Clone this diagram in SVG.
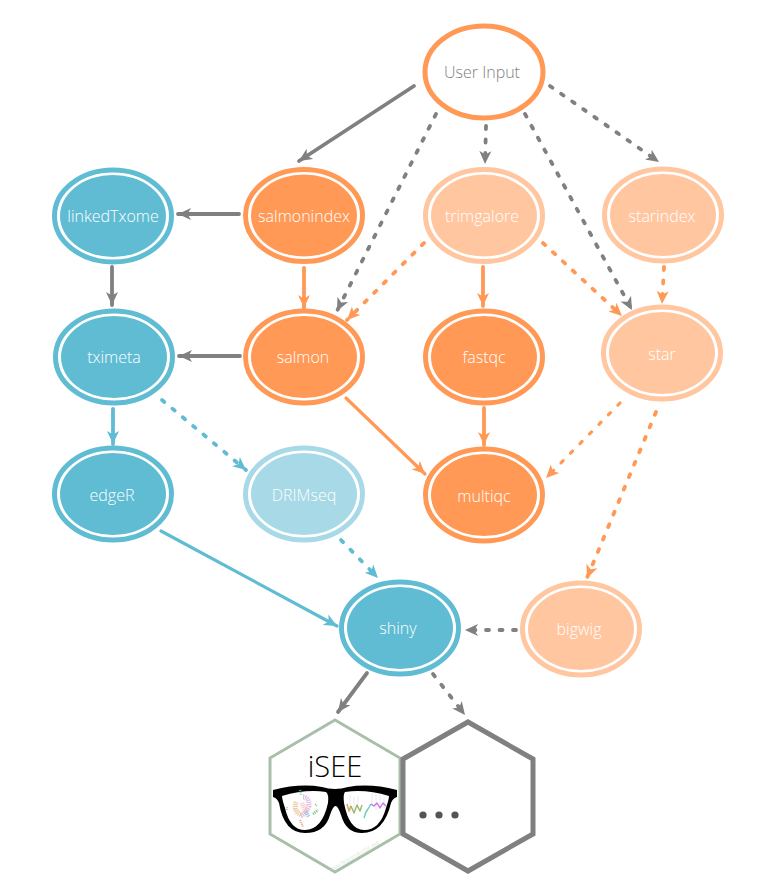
<svg xmlns="http://www.w3.org/2000/svg" width="777" height="896" viewBox="0 0 777 896">
<style>
text{font-family:"Open Sans","Noto Sans",sans-serif;font-size:16px;font-weight:300;text-anchor:middle;fill:#fff}
.o{fill:none;stroke-width:5}
.i{stroke:none}
.org .o{stroke:#ff9955}.org .i{fill:#ff9955}
.pale .o{stroke:#ffc6a0}.pale .i{fill:#ffc6a0}
.blu .o{stroke:#5fbcd3}.blu .i{fill:#5fbcd3}
.pblu .o{stroke:#a8d9e6}.pblu .i{fill:#a8d9e6}
.c{fill:none;stroke-width:3.8;stroke-linecap:round}
.g{stroke:#808080;marker-end:url(#ag)}.r{stroke:#ff9955;marker-end:url(#ar)}.b{stroke:#5fbcd3;marker-end:url(#ab)}
.d{stroke-dasharray:3 10.5}
.t{stroke-width:3.2}
</style>
<defs>
<marker id="ag" markerUnits="userSpaceOnUse" markerWidth="16" markerHeight="14" refX="13" refY="7" orient="auto"><path d="M0,1L13,7L0,13L3.5,7z" fill="#808080"/></marker>
<marker id="ar" markerUnits="userSpaceOnUse" markerWidth="16" markerHeight="14" refX="13" refY="7" orient="auto"><path d="M0,1L13,7L0,13L3.5,7z" fill="#ff9955"/></marker>
<marker id="ab" markerUnits="userSpaceOnUse" markerWidth="16" markerHeight="14" refX="13" refY="7" orient="auto"><path d="M0,1L13,7L0,13L3.5,7z" fill="#5fbcd3"/></marker>
</defs>
<g id="connectors">
<path class="c g" d="M414,86L299,161"/>
<path class="c g d" d="M436,114L337,311"/>
<path class="c g d" d="M486,126L485,164"/>
<path class="c g d" d="M525,114L632,310"/>
<path class="c g d" d="M550,86L659,162"/>
<path class="c g" d="M239,214L178,214"/>
<path class="c r" d="M304,268L304,308"/>
<path class="c r d" d="M424,243L347,320"/>
<path class="c r" d="M483,267L483,306"/>
<path class="c r d" d="M543,243L622,316"/>
<path class="c r d" d="M664,267L662,304"/>
<path class="c g" d="M112,267L112,305"/>
<path class="c g" d="M240,356L179,356"/>
<path class="c b" d="M113,409L113,444"/>
<path class="c b d" d="M162,400L246,470"/>
<path class="c r t" d="M346,398L425,474"/>
<path class="c r" d="M484,408L484,445"/>
<path class="c r d t" d="M620,403L546,478"/>
<path class="c r d" d="M656,412L587,578"/>
<path class="c b t" d="M161,531L337,626"/>
<path class="c b d" d="M341,540L378,578"/>
<path class="c g d" d="M516,630L465,630"/>
<path class="c g" d="M367,673L338,712"/>
<path class="c g d" d="M433,674L465,715"/>
</g>
<g id="userinput"><ellipse cx="484" cy="72" rx="59" ry="46" fill="#fff" stroke="#ff9955" stroke-width="5"/><text x="482" y="78" style="fill:#808080">User Input</text></g>
<g id="salmonindex" class="org"><ellipse class="o" cx="304" cy="215.500" rx="58.500" ry="46"/><ellipse class="i" cx="304" cy="215.500" rx="53" ry="41"/><text x="304" y="222">salmonindex</text></g>
<g id="trimgalore" class="pale"><ellipse class="o" cx="484" cy="215.500" rx="58.500" ry="46"/><ellipse class="i" cx="484" cy="215.500" rx="53" ry="41"/><text x="482" y="222">trimgalore</text></g>
<g id="starindex" class="pale"><ellipse class="o" cx="663" cy="215" rx="58.500" ry="46"/><ellipse class="i" cx="663" cy="215" rx="53" ry="41"/><text x="662" y="221.500">starindex</text></g>
<g id="linkedTxome" class="blu"><ellipse class="o" cx="113" cy="216" rx="58.500" ry="46"/><ellipse class="i" cx="113" cy="216" rx="53" ry="41"/><text x="113" y="222">linkedTxome</text></g>
<g id="tximeta" class="blu"><ellipse class="o" cx="114" cy="357" rx="58.500" ry="46"/><ellipse class="i" cx="114" cy="357" rx="53" ry="41"/><text x="114" y="363">tximeta</text></g>
<g id="salmon" class="org"><ellipse class="o" cx="304" cy="357" rx="58.500" ry="46"/><ellipse class="i" cx="304" cy="357" rx="53" ry="41"/><text x="303" y="363">salmon</text></g>
<g id="fastqc" class="org"><ellipse class="o" cx="484" cy="357" rx="58.500" ry="46"/><ellipse class="i" cx="484" cy="357" rx="53" ry="41"/><text x="484" y="363">fastqc</text></g>
<g id="star" class="pale"><ellipse class="o" cx="662" cy="353" rx="58.500" ry="46"/><ellipse class="i" cx="662" cy="353" rx="53" ry="41"/><text x="662" y="359.500">star</text></g>
<g id="edgeR" class="blu"><ellipse class="o" cx="113" cy="494" rx="58.500" ry="46"/><ellipse class="i" cx="113" cy="494" rx="53" ry="41"/><text x="112" y="500.500">edgeR</text></g>
<g id="DRIMseq" class="pblu"><ellipse class="o" cx="304" cy="494" rx="58.500" ry="46"/><ellipse class="i" cx="304" cy="494" rx="53" ry="41"/><text x="304" y="500.500">DRIMseq</text></g>
<g id="multiqc" class="org"><ellipse class="o" cx="484" cy="495" rx="58.500" ry="46"/><ellipse class="i" cx="484" cy="495" rx="53" ry="41"/><text x="484" y="501.500">multiqc</text></g>
<g id="shiny" class="blu"><ellipse class="o" cx="400" cy="628" rx="58.500" ry="46"/><ellipse class="i" cx="400" cy="628" rx="53" ry="41"/><text x="398" y="634">shiny</text></g>
<g id="bigwig" class="pale"><ellipse class="o" cx="581" cy="629" rx="58.500" ry="46"/><ellipse class="i" cx="581" cy="629" rx="53" ry="41"/><text x="579" y="635">bigwig</text></g>
<g id="isee">
<polygon points="335,720 400,758 400,834 335,872 270,834 270,758" fill="#fff" stroke="#a9bfa9" stroke-width="3"/>
<text x="335" y="777" style="fill:#000;font-size:29px">iSEE</text>
<path d="M273,790Q300,783 322,787Q335,791 348,787Q370,783 397,790L397,797Q393,798 391,803Q384,833 362,833Q346,833 341,815Q338,806 335.500,806Q333,806 330,815Q325,833 305,833Q284,833 279,803Q277,798 273,797Z" fill="#000"/>
<path d="M282,796Q305,789 326,792Q329,794 328,803Q322,830 305,830Q290,830 285,808Q282,799 282,796Z" fill="#fff"/>
<path d="M389,796Q366,789 345,792Q343,794 344,803Q349,830 364,830Q380,830 386,808Q389,799 389,796Z" fill="#fff"/>
<g fill="none" stroke-dasharray="1.200 .8">
<path d="M303,797Q309,797 309,806Q306,814 300,816" stroke="#d8a8d8" stroke-width="5" opacity=".75"/>
<path d="M296,802Q293,812 302,815" stroke="#e8b080" stroke-width="5" opacity=".7"/>
<path d="M302,803L306,812" stroke="#f0a8a8" stroke-width="5" opacity=".6"/>
<path d="M306,812L309,817" stroke="#70b8e0" stroke-width="4" opacity=".7"/>
<path d="M313,814L318,810" stroke="#70c070" stroke-width="2.500" opacity=".9"/>
<path d="M300,820L303,827" stroke="#e0a070" stroke-width="2" opacity=".8"/>
<path d="M300,790L301,795" stroke="#80d0a0" stroke-width="2.500" opacity=".7"/>
<path d="M315,804L317,806M287,807L287,810" stroke="#80c090" stroke-width="1.200"/>
</g>
<g fill="none" stroke-linejoin="round">
<path d="M350,795V814M354,797V812M358,796V810M372,793V806M376,794V810M380,795V808M384,797V808" stroke="#efe6f6" stroke-width="1"/>
<path d="M347,804L349,811L351,806" stroke="#d8a050" stroke-width="1.500" opacity=".9"/>
<path d="M351,806L354,813L357,805L360,811L362,805" stroke="#90b060" stroke-width="1.400" opacity=".9"/>
<path d="M364,818L366,812L368,809L371,804" stroke="#50c8b0" stroke-width="1.400" opacity=".9"/>
<path d="M371,804L374,806L377,803L380,808L383,803L386,806" stroke="#c060e0" stroke-width="1.400" opacity=".85"/>
</g>
<text transform="rotate(-30 354 856)" x="354" y="858" style="fill:#c4d2c4;font-size:5.500px">www.bioconductor.org</text>
</g>
<g id="more">
<polygon points="468,722 533,759 533,834 468,871 403,834 403,759" fill="#fff" stroke="#808080" stroke-width="5"/>
<circle cx="423" cy="815" r="3.600" fill="#555"/><circle cx="439" cy="815" r="3.600" fill="#555"/><circle cx="455" cy="815" r="3.600" fill="#555"/>
</g>
</svg>
